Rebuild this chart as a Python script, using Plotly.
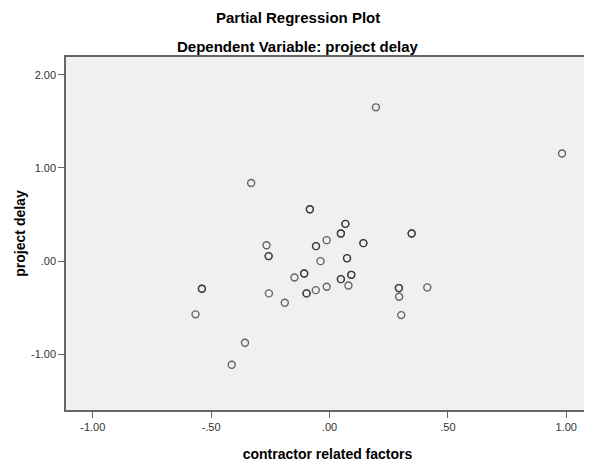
import plotly.graph_objects as go

# Partial regression data (contractor related factors vs project delay residuals)
contractor_factors = [
    -0.331, -0.083, -0.083, 0.067, 0.067, 0.048, 0.048, 0.347, 0.347,
    -0.266, -0.012, 0.143, 0.143, -0.057, -0.057, -0.257, -0.257,
    -0.038, 0.074, 0.074, -0.539, -0.539, -0.148, -0.107, -0.107,
    0.092, 0.092, 0.048, 0.048, -0.256, -0.097, -0.097, -0.058,
    -0.012, 0.080, -0.189, 0.293, 0.293, 0.294, 0.413, -0.566,
    0.303, -0.357, -0.413, 0.196, 0.982,
]
project_delay = [
    0.839, 0.557, 0.557, 0.400, 0.400, 0.297, 0.297, 0.297, 0.297,
    0.171, 0.225, 0.193, 0.193, 0.161, 0.161, 0.054, 0.054,
    0.000, 0.032, 0.032, -0.297, -0.297, -0.175, -0.132, -0.132,
    -0.147, -0.147, -0.193, -0.193, -0.346, -0.346, -0.346, -0.311,
    -0.275, -0.261, -0.447, -0.289, -0.289, -0.382, -0.282, -0.571,
    -0.579, -0.875, -1.111, 1.650, 1.154,
]

x_tickvals = [-1.0, -0.5, 0.0, 0.5, 1.0]
x_ticktext = ["-1.00", "-.50", ".00", ".50", "1.00"]
y_tickvals = [-1.0, 0.0, 1.0, 2.0]
y_ticktext = ["-1.00", ".00", "1.00", "2.00"]

FONT = "Liberation Sans, Arial, sans-serif"

fig = go.Figure()
fig.add_trace(go.Scatter(
    x=contractor_factors, y=project_delay, mode="markers",
    marker=dict(symbol="circle-open", size=7, color="rgba(40,40,40,0.7)",
                line=dict(width=1.4, color="rgba(40,40,40,0.7)")),
    hoverinfo="x+y", showlegend=False,
))

axis_common = dict(
    showgrid=False, zeroline=False, showline=True, mirror=True,
    linecolor="#666666", linewidth=1.5, ticks="outside", ticklen=6,
    tickwidth=1, tickcolor="#666666",
    tickfont=dict(family=FONT, size=11, color="#333333"),
)

fig.update_layout(
    width=584, height=458,
    margin=dict(l=58, r=1, t=49, b=56),
    paper_bgcolor="white", plot_bgcolor="#F0F0F0",
    font=dict(family=FONT, color="#000000"),
    xaxis=dict(range=[-1.113, 1.096], tickvals=x_tickvals, ticktext=x_ticktext,
               title=dict(text="<b>contractor related factors</b>",
                          font=dict(family=FONT, size=14), standoff=17),
               **axis_common),
    yaxis=dict(range=[-1.597, 2.19], tickvals=y_tickvals, ticktext=y_ticktext,
               title=dict(text="<b>project delay</b>",
                          font=dict(family=FONT, size=14), standoff=2),
               **axis_common),
    annotations=[
        dict(text="<b>Partial Regression Plot</b>", xref="paper", yref="paper",
             x=0.4438, y=1.112, xanchor="center", yanchor="middle", showarrow=False,
             font=dict(family=FONT, size=15, color="#000000")),
        dict(text="<b>Dependent Variable: project delay</b>", xref="paper", yref="paper",
             x=0.4438, y=1.0297, xanchor="center", yanchor="middle", showarrow=False,
             font=dict(family=FONT, size=15, color="#000000")),
    ],
)

fig.write_html("out.html")
